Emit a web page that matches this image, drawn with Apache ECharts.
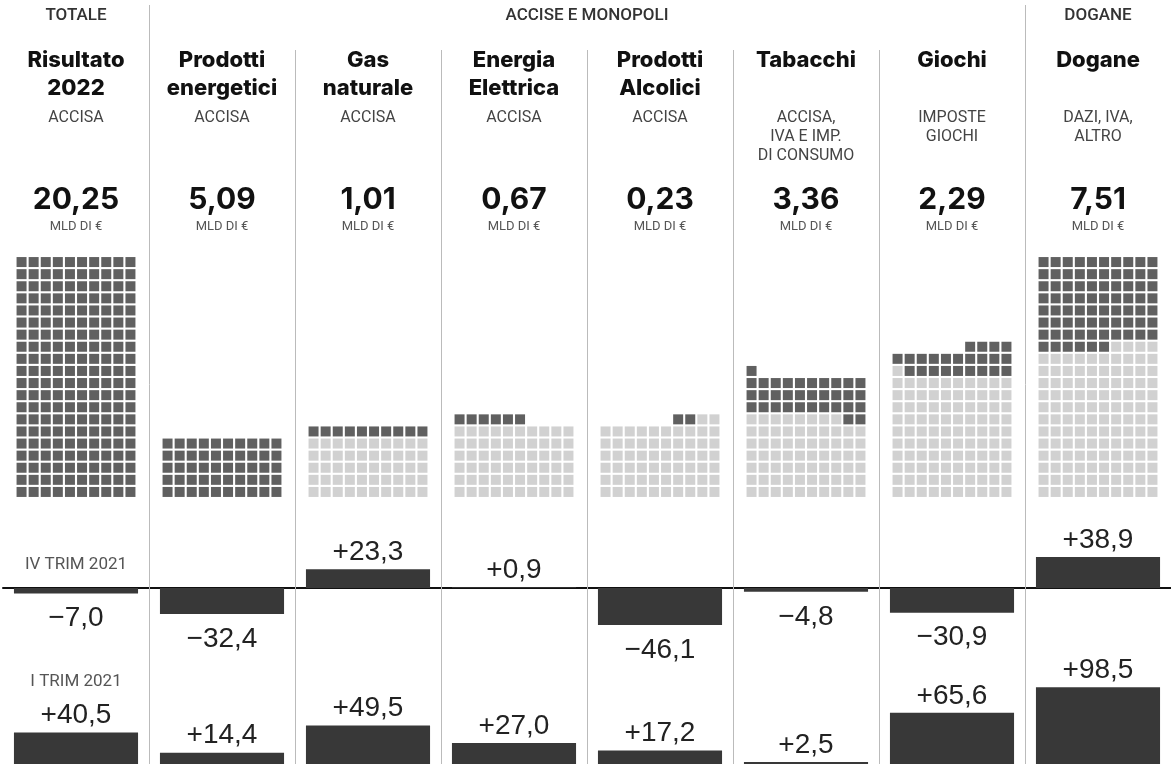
<!DOCTYPE html>
<html lang="it">
<head>
<meta charset="utf-8">
<title>Accise, monopoli e dogane - risultato 2022</title>
<script src="https://cdn.jsdelivr.net/npm/echarts@6/dist/echarts.min.js"></script>
<style>
  html, body { margin: 0; padding: 0; background: #fff; }
  #chart { width: 1171px; height: 764px; }
</style>
</head>
<body>
<div id="chart"></div>
<script>
// colonne del grafico (da sinistra a destra)
const titles = ['Risultato\n2022', 'Prodotti\nenergetici', 'Gas\nnaturale', 'Energia\nElettrica',
  'Prodotti\nAlcolici', 'Tabacchi', 'Giochi', 'Dogane'];
const subtitles = ['ACCISA', 'ACCISA', 'ACCISA', 'ACCISA', 'ACCISA',
  'ACCISA,\nIVA E IMP.\nDI CONSUMO', 'IMPOSTE\nGIOCHI', 'DAZI, IVA,\nALTRO'];
const groups = ['TOTALE', 'ACCISE E MONOPOLI', 'DOGANE'];
const groupSpan = [[0, 1], [1, 7], [7, 8]];

// gettito in miliardi di euro
const amounts = [20.25, 5.09, 1.01, 0.67, 0.23, 3.36, 2.29, 7.51];
const unit = 'MLD DI €';

// waffle: ogni quadratino = 0,1 mld; in grigio la quota cumulata delle colonne precedenti
const waffleBase = [0, 0, 50, 60, 62, 68, 101, 124];
const waffleCells = [200, 50, 10, 6, 2, 33, 23, 76];
// righe riempite da destra a sinistra
const rtlRows = [[], [], [], [], [6], [], [12], [12]];

// variazioni percentuali
const varLabels = ['IV TRIM 2021', 'I TRIM 2021'];
const varIV = [-7.0, -32.4, 23.3, 0.9, -46.1, -4.8, -30.9, 38.9];
const varI = [40.5, 14.4, 49.5, 27.0, 17.2, 2.5, 65.6, 98.5];

const W = 1171;
const LEFT = 3;
const COLW = (W - LEFT) / 8;
const PITCH = 12.1 / COLW; // passo dei quadratini in unità di colonna

const DARK = '#383838';
const GREY = '#c6c6c6';

function fmtNum(v, dec) {
  return v.toFixed(dec).replace('.', ',');
}
function fmtVar(v) {
  return (v < 0 ? '\u2212' : '+') + fmtNum(Math.abs(v), 1);
}

// celle del waffle
const greyData = [];
const darkData = [];
waffleCells.forEach(function (n, c) {
  const total = waffleBase[c] + n;
  for (let k = 0; k < total; k++) {
    const row = Math.floor(k / 10);
    let pos = k % 10;
    if (rtlRows[c].indexOf(row) >= 0) pos = 9 - pos;
    const pt = [c + 0.5 + (pos - 4.5) * PITCH, row];
    (k < waffleBase[c] ? greyData : darkData).push(pt);
  }
});

function barData(values) {
  return values.map(function (v) {
    return {
      value: v,
      label: {
        position: v < 0 ? 'bottom' : 'top',
        distance: v < 0 ? 11 : 3
      }
    };
  });
}

const colCenter = function (i) { return LEFT + COLW * (i + 0.5); };

// testi di intestazione
const graphics = [];
groups.forEach(function (g, i) {
  const cx = LEFT + COLW * (groupSpan[i][0] + groupSpan[i][1]) / 2;
  graphics.push({
    type: 'text', x: cx, y: 16,
    style: { text: g, align: 'center', verticalAlign: 'middle',
      font: '500 17px Roboto, sans-serif', fill: '#333' }
  });
});
titles.forEach(function (t, i) {
  const cx = colCenter(i);
  graphics.push({
    type: 'text', x: cx, y: 46,
    style: { text: t, align: 'center', verticalAlign: 'top', lineHeight: 28,
      font: '800 22px Inter, sans-serif', fill: '#111' }
  });
  graphics.push({
    type: 'text', x: cx, y: 108,
    style: { text: subtitles[i], align: 'center', verticalAlign: 'top', lineHeight: 19,
      font: '16px Roboto, sans-serif', fill: '#444' }
  });
  graphics.push({
    type: 'text', x: cx, y: 200,
    style: { text: fmtNum(amounts[i], 2), align: 'center', verticalAlign: 'middle',
      font: '700 30px Inter, sans-serif', fill: '#111' }
  });
  graphics.push({
    type: 'text', x: cx, y: 227,
    style: { text: unit, align: 'center', verticalAlign: 'middle',
      font: '13px Roboto, sans-serif', fill: '#555' }
  });
});
graphics.push({
  type: 'text', x: colCenter(0), y: 565,
  style: { text: varLabels[0], align: 'center', verticalAlign: 'middle',
    font: '17px Roboto, sans-serif', fill: '#555' }
});
graphics.push({
  type: 'text', x: colCenter(0), y: 682,
  style: { text: varLabels[1], align: 'center', verticalAlign: 'middle',
    font: '17px Roboto, sans-serif', fill: '#555' }
});

const barLabel = {
  show: true,
  color: '#222',
  fontSize: 28,
  fontFamily: 'Liberation Sans, Arial, sans-serif',
  formatter: function (p) { return fmtVar(p.value); }
};

const dividerLine = { color: '#bbbbbb', width: 1, type: 'solid' };

const chart = echarts.init(document.getElementById('chart'));
chart.setOption({
  animation: false,
  backgroundColor: '#fff',
  grid: [
    { left: LEFT, right: 0, top: 256, height: 242 },
    { left: LEFT, right: 0, top: 548, height: 88 },
    { left: LEFT, right: 0, top: 686, height: 80 },
    { left: LEFT, right: 0, top: 5, bottom: 0 },
    { left: LEFT, right: 0, top: 50, bottom: 0 }
  ],
  xAxis: [
    { gridIndex: 0, type: 'value', min: 0, max: 8, show: false },
    { gridIndex: 1, type: 'category', data: titles, axisTick: { show: false },
      axisLabel: { show: false },
      axisLine: { onZero: true, lineStyle: { color: '#111', width: 2 } } },
    { gridIndex: 2, type: 'category', data: titles, show: false },
    { gridIndex: 3, type: 'value', min: 0, max: 8, show: false },
    { gridIndex: 4, type: 'value', min: 0, max: 8, show: false }
  ],
  yAxis: [
    { gridIndex: 0, type: 'value', min: -0.5, max: 19.5, show: false },
    { gridIndex: 1, type: 'value', min: -60, max: 50, show: false },
    { gridIndex: 2, type: 'value', min: 0, max: 100, show: false },
    { gridIndex: 3, type: 'value', min: 0, max: 1, show: false },
    { gridIndex: 4, type: 'value', min: 0, max: 1, show: false }
  ],
  series: [
    {
      type: 'line', xAxisIndex: 3, yAxisIndex: 3, data: [], silent: true,
      markLine: { silent: true, symbol: 'none', label: { show: false },
        lineStyle: dividerLine,
        data: [{ xAxis: 1 }, { xAxis: 7 }] }
    },
    {
      type: 'line', xAxisIndex: 4, yAxisIndex: 4, data: [], silent: true,
      markLine: { silent: true, symbol: 'none', label: { show: false },
        lineStyle: dividerLine,
        data: [{ xAxis: 2 }, { xAxis: 3 }, { xAxis: 4 }, { xAxis: 5 }, { xAxis: 6 }] }
    },
    {
      type: 'scatter', xAxisIndex: 0, yAxisIndex: 0, data: greyData,
      symbol: 'rect', symbolSize: 10, itemStyle: { color: GREY }, silent: true
    },
    {
      type: 'scatter', xAxisIndex: 0, yAxisIndex: 0, data: darkData,
      symbol: 'rect', symbolSize: 10, itemStyle: { color: DARK }, silent: true
    },
    {
      type: 'bar', xAxisIndex: 1, yAxisIndex: 1, data: barData(varIV),
      barWidth: '85%', itemStyle: { color: DARK }, label: barLabel, silent: true
    },
    {
      type: 'bar', xAxisIndex: 2, yAxisIndex: 2, data: barData(varI),
      barWidth: '85%', itemStyle: { color: DARK }, label: barLabel, silent: true
    }
  ],
  graphic: graphics
});
</script>
</body>
</html>
